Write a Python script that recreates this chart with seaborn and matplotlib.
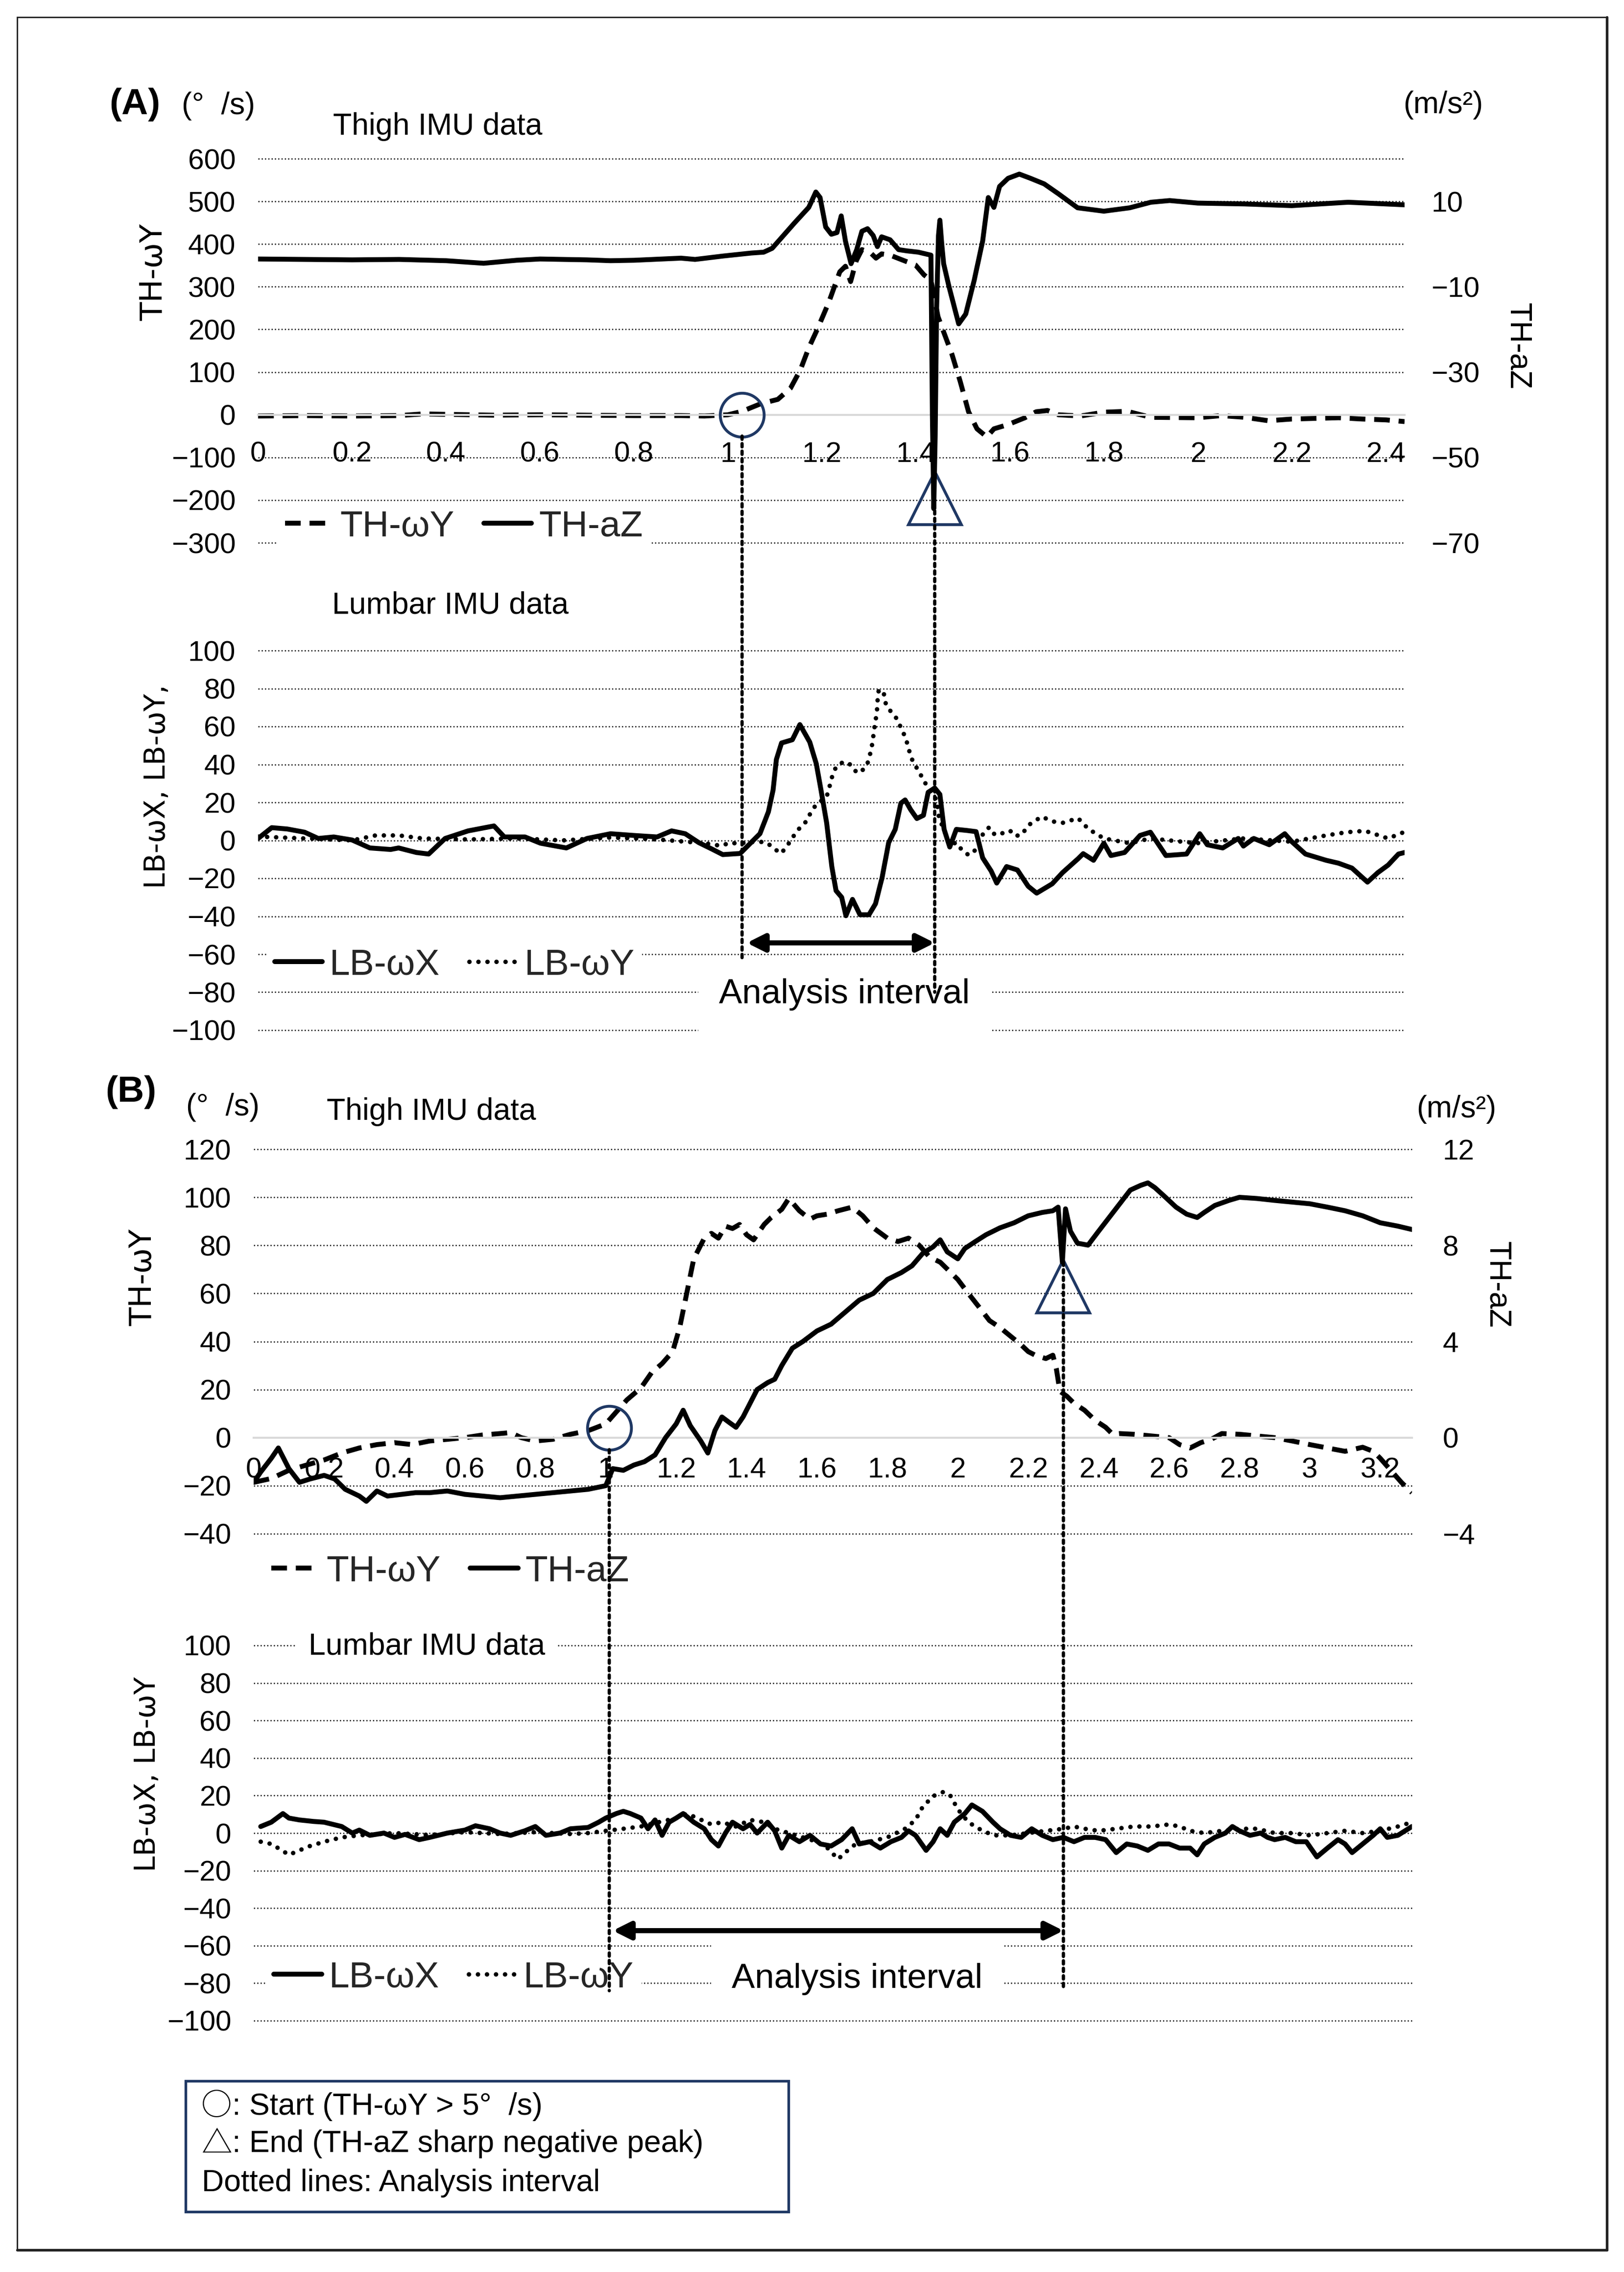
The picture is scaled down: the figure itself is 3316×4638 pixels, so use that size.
import matplotlib
matplotlib.use("Agg")
import matplotlib.pyplot as plt
import pandas as pd
import seaborn as sns
from matplotlib.lines import Line2D
from matplotlib.patches import ConnectionPatch, Rectangle

# ---------------- data: (time s, value) ----------------
# (A) thigh: TH-wY (deg/s)
a_th_wy = [(0, -3), (0.1, -2), (0.2, -3), (0.3, -2), (0.35, 2), (0.4, 1), (0.5, -1), (0.6, 0),
           (0.7, -1), (0.8, -2), (0.9, -2), (0.95, -3), (1.0, 0), (1.03, 8), (1.07, 26), (1.106, 36),
           (1.133, 62), (1.154, 105), (1.172, 157), (1.19, 200), (1.214, 262), (1.238, 335),
           (1.25, 348), (1.261, 312), (1.273, 361), (1.285, 387), (1.303, 380), (1.315, 367),
           (1.327, 377), (1.345, 374), (1.375, 361), (1.399, 351), (1.417, 328), (1.432, 315),
           (1.447, 230), (1.458, 197), (1.476, 144), (1.494, 79), (1.512, 7), (1.53, -33),
           (1.551, -52), (1.566, -33), (1.596, -23), (1.632, -7), (1.656, 7), (1.68, 10),
           (1.703, 0), (1.75, -3), (1.8, 6), (1.85, 8), (1.9, -6), (2.0, -7), (2.05, -2),
           (2.1, -6), (2.15, -14), (2.2, -10), (2.3, -7), (2.35, -10), (2.4, -12), (2.44, -16)]
# (A) thigh: TH-aZ (m/s2)
a_th_az = [(0, -3.5), (0.1, -3.6), (0.2, -3.7), (0.3, -3.6), (0.4, -3.9), (0.48, -4.5),
           (0.55, -3.8), (0.6, -3.5), (0.7, -3.7), (0.75, -3.9), (0.8, -3.8), (0.9, -3.3),
           (0.93, -3.6), (0.99, -2.8), (1.05, -2.1), (1.076, -1.9), (1.094, -1.0), (1.118, 2.0),
           (1.142, 5.0), (1.172, 8.6), (1.187, 12.2), (1.196, 10.9), (1.208, 4.0), (1.22, 2.3),
           (1.232, 2.7), (1.241, 6.6), (1.25, 0.7), (1.262, -4.6), (1.274, -1.3), (1.285, 3.0),
           (1.297, 3.6), (1.309, 2.0), (1.318, -0.6), (1.327, 1.7), (1.345, 1.0), (1.363, -1.3),
           (1.381, -1.6), (1.405, -1.9), (1.432, -2.6), (1.435, -40), (1.438, -62), (1.441, -45),
           (1.444, -15), (1.448, 2), (1.451, 5.6), (1.455, 0), (1.459, -4.6), (1.47, -9.8),
           (1.491, -18.7), (1.506, -16.4), (1.524, -8.5), (1.542, 0.7), (1.554, 10.9),
           (1.566, 8.6), (1.578, 13.5), (1.596, 15.4), (1.62, 16.4), (1.644, 15.4), (1.673, 14.1),
           (1.703, 11.8), (1.744, 8.5), (1.8, 7.7), (1.855, 8.5), (1.9, 9.8), (1.94, 10.2),
           (2.0, 9.6), (2.1, 9.4), (2.2, 9.0), (2.32, 9.8), (2.44, 9.2)]
# (A) lumbar: LB-wX, LB-wY (deg/s)
a_lb_wx = [(0, 1), (0.029, 6.7), (0.062, 6), (0.099, 4.3), (0.128, 1), (0.161, 1.8), (0.2, 0.2),
           (0.238, -4), (0.282, -4.8), (0.299, -4), (0.337, -6.4), (0.363, -7.2), (0.398, 1),
           (0.447, 5), (0.502, 7.6), (0.524, 1.8), (0.568, 1.8), (0.601, -1.5), (0.656, -4),
           (0.7, 1), (0.75, 3.5), (0.799, 2.6), (0.849, 1.8), (0.88, 5), (0.909, 3.5),
           (0.938, -1.2), (0.966, -4.6), (0.989, -7.5), (1.026, -6.9), (1.049, -1.2), (1.068, 3.5),
           (1.086, 15), (1.096, 26.5), (1.103, 42.6), (1.114, 51.3), (1.137, 53), (1.153, 61),
           (1.174, 51.8), (1.188, 40.3), (1.198, 26.5), (1.21, 9.2), (1.221, -13.8), (1.23, -26.5),
           (1.242, -30), (1.251, -39.7), (1.265, -31.1), (1.281, -39.2), (1.3, -39.2),
           (1.314, -33.4), (1.328, -19.6), (1.342, -1.2), (1.356, 5.8), (1.368, 19.6),
           (1.377, 21.3), (1.389, 16.1), (1.402, 11.5), (1.416, 13.2), (1.426, 25.3), (1.44, 27.6),
           (1.451, 24.2), (1.46, 5.8), (1.472, -3.5), (1.486, 5.8), (1.509, 5.2), (1.528, 4.6),
           (1.542, -9.2), (1.56, -16.1), (1.572, -22.5), (1.593, -13.8), (1.616, -15.6),
           (1.639, -24.2), (1.657, -27.8), (1.69, -22.9), (1.712, -17), (1.745, -9.7), (1.756, -7),
           (1.778, -10.5), (1.8, -1.5), (1.815, -8), (1.844, -6.4), (1.877, 2.6), (1.899, 4.3),
           (1.932, -8), (1.976, -7.2), (2.004, 3.5), (2.02, -2.3), (2.053, -4), (2.086, 1),
           (2.097, -3), (2.119, 1), (2.152, -2.3), (2.185, 3.5), (2.2, -0.7), (2.229, -7.2),
           (2.273, -10.5), (2.299, -12), (2.328, -14.6), (2.361, -22), (2.383, -17), (2.405, -13),
           (2.427, -7.2), (2.44, -6.4)]
a_lb_wy = [(0, 2), (0.1, 1), (0.2, 0), (0.25, 2.6), (0.3, 2.6), (0.35, 1), (0.45, 0.5), (0.55, 1),
           (0.65, 0), (0.75, 1.5), (0.85, 0.5), (0.95, -1.5), (0.986, -2.9), (1.004, -1.2),
           (1.021, -1.7), (1.063, -0.6), (1.083, -1.2), (1.096, -4), (1.113, -6.9), (1.126, -2.9),
           (1.138, 1.7), (1.15, 5.8), (1.164, 9.2), (1.175, 14), (1.187, 18.7), (1.21, 23),
           (1.216, 28.2), (1.222, 33.9), (1.23, 38.7), (1.244, 41.1), (1.257, 40.9), (1.268, 36.9),
           (1.281, 35.5), (1.296, 39.7), (1.302, 44.9), (1.307, 50.7), (1.313, 61.6), (1.317, 67.4),
           (1.318, 72.9), (1.321, 79.5), (1.332, 77), (1.336, 71.8), (1.347, 67.7), (1.36, 63.9),
           (1.369, 58.8), (1.378, 54.1), (1.384, 48.8), (1.39, 43.4), (1.4, 38.9), (1.41, 34.6),
           (1.421, 29.7), (1.444, 21.3), (1.449, 12.1), (1.472, -2.3), (1.486, -1.2), (1.5, -5.8),
           (1.513, -7.8), (1.526, -5.2), (1.544, 4), (1.556, 6.9), (1.568, 2.9), (1.581, 3.5),
           (1.6, 5.2), (1.611, 2.3), (1.625, 2.9), (1.638, 7.5), (1.646, 9.2), (1.668, 12.5),
           (1.69, 10), (1.712, 9.2), (1.745, 11.7), (1.767, 6), (1.8, 1), (1.855, -1.5),
           (1.899, 1), (1.998, -1.5), (2.097, 1), (2.2, -0.7), (2.273, 2.6), (2.317, 4.3),
           (2.356, 5), (2.405, 1), (2.438, 4.3)]

# (B) thigh: TH-wY (deg/s)
b_th_wy = [(0, -18.6), (0.05, -17), (0.1, -13.6), (0.15, -11.4), (0.2, -9.3), (0.25, -6.4),
           (0.3, -4.3), (0.35, -2.9), (0.4, -2.1), (0.45, -2.9), (0.5, -1.4), (0.55, -0.7), (0.6, 0),
           (0.65, 1.1), (0.7, 1.7), (0.73, 2.1), (0.76, 0), (0.8, -1.4), (0.85, -0.7), (0.9, 1.4),
           (0.95, 2.9), (1.0, 5.7), (1.03, 10.7), (1.06, 15.7), (1.1, 20.7), (1.13, 27), (1.16, 30.8),
           (1.19, 35.8), (1.21, 45.8), (1.23, 60), (1.25, 74.4), (1.28, 83), (1.3, 85), (1.32, 83),
           (1.34, 88), (1.36, 87), (1.38, 88.7), (1.4, 84.4), (1.42, 82.3), (1.45, 88.7),
           (1.47, 91.6), (1.5, 95), (1.52, 99.5), (1.55, 94.4), (1.58, 90.9), (1.6, 92.3),
           (1.63, 93), (1.66, 94.4), (1.7, 95.9), (1.73, 92.3), (1.76, 87.3), (1.8, 83),
           (1.83, 81.6), (1.86, 83), (1.89, 80.1), (1.92, 75.1), (1.95, 73), (1.98, 68.7),
           (2.0, 65.8), (2.03, 60), (2.06, 54.4), (2.09, 48.7), (2.12, 45.8), (2.15, 42.2),
           (2.18, 38.6), (2.2, 35.8), (2.22, 34.3), (2.25, 32.9), (2.27, 34.3), (2.28, 28.6),
           (2.29, 19.3), (2.31, 17.2), (2.33, 14.3), (2.36, 11.4), (2.39, 7.2), (2.42, 4.3),
           (2.44, 1.4), (2.46, 1.7), (2.5, 1.4), (2.55, 0.7), (2.6, 0), (2.63, -2.9), (2.66, -4.3),
           (2.69, -2.1), (2.72, -0.7), (2.75, 1.7), (2.8, 1.4), (2.85, 0.7), (2.9, 0), (2.95, -1.4),
           (3.0, -2.9), (3.05, -4.3), (3.1, -5.7), (3.15, -4), (3.18, -5.7), (3.2, -8.6),
           (3.23, -13.6), (3.26, -18.6), (3.29, -22.9)]
# (B) thigh: TH-aZ (m/s2)
b_th_az = [(0, -1.86), (0.02, -1.43), (0.05, -0.86), (0.07, -0.43), (0.1, -1.29), (0.13, -1.86),
           (0.16, -1.72), (0.2, -1.57), (0.23, -1.72), (0.26, -2.15), (0.3, -2.43), (0.32, -2.65),
           (0.35, -2.22), (0.38, -2.43), (0.42, -2.36), (0.46, -2.29), (0.5, -2.29), (0.55, -2.22),
           (0.6, -2.36), (0.65, -2.43), (0.7, -2.5), (0.75, -2.43), (0.8, -2.36), (0.85, -2.29),
           (0.9, -2.22), (0.95, -2.15), (1.0, -2.0), (1.02, -1.29), (1.05, -1.36), (1.08, -1.14),
           (1.11, -1.0), (1.14, -0.72), (1.17, 0), (1.2, 0.57), (1.22, 1.14), (1.24, 0.5),
           (1.27, -0.14), (1.29, -0.64), (1.31, 0.29), (1.33, 0.86), (1.35, 0.64), (1.37, 0.43),
           (1.39, 0.86), (1.41, 1.43), (1.43, 2.0), (1.46, 2.29), (1.48, 2.43), (1.5, 3.0),
           (1.53, 3.72), (1.56, 4.0), (1.6, 4.44), (1.64, 4.72), (1.68, 5.22), (1.72, 5.72),
           (1.76, 6.0), (1.8, 6.58), (1.84, 6.87), (1.87, 7.15), (1.9, 7.66), (1.93, 7.94),
           (1.95, 8.23), (1.97, 7.73), (2.0, 7.44), (2.02, 7.87), (2.05, 8.16), (2.08, 8.44),
           (2.12, 8.73), (2.16, 8.94), (2.2, 9.23), (2.24, 9.37), (2.27, 9.44), (2.285, 9.59),
           (2.297, 7.3), (2.306, 9.52), (2.32, 8.59), (2.34, 8.09), (2.37, 8.01), (2.4, 8.59),
           (2.43, 9.16), (2.46, 9.73), (2.49, 10.3), (2.52, 10.5), (2.54, 10.6), (2.56, 10.4),
           (2.59, 10.0), (2.62, 9.59), (2.65, 9.3), (2.68, 9.16), (2.7, 9.37), (2.73, 9.66),
           (2.77, 9.87), (2.8, 10.0), (2.85, 9.95), (2.9, 9.87), (2.95, 9.8), (3.0, 9.73),
           (3.05, 9.59), (3.1, 9.44), (3.15, 9.23), (3.2, 8.94), (3.25, 8.8), (3.29, 8.66)]
# (B) lumbar: LB-wX, LB-wY (deg/s)
b_lb_wx = [(0.02, 3.5), (0.05, 5.8), (0.083, 10.4), (0.1, 8), (0.13, 7), (0.17, 6.2), (0.2, 5.8),
           (0.25, 3.5), (0.28, 0), (0.3, 1.6), (0.33, -1.2), (0.37, 0), (0.4, -2.3), (0.43, -0.7),
           (0.47, -3.5), (0.5, -2.3), (0.55, 0), (0.6, 1.6), (0.63, 3.9), (0.67, 2.3), (0.7, 0),
           (0.73, -1.2), (0.77, 1.2), (0.8, 3.5), (0.83, -1.2), (0.87, 0), (0.9, 2.3), (0.95, 3),
           (0.98, 5.8), (1.0, 8), (1.03, 10.4), (1.05, 11.6), (1.07, 10.4), (1.1, 8), (1.12, 2.3),
           (1.14, 7), (1.16, -1.2), (1.18, 5.8), (1.2, 8), (1.22, 10.4), (1.25, 5.8), (1.28, 2.3),
           (1.3, -3.5), (1.32, -6.9), (1.34, 0), (1.36, 5.8), (1.39, 2.3), (1.41, 4.6), (1.43, 0),
           (1.46, 5.8), (1.48, 1.2), (1.5, -8), (1.52, -1.2), (1.55, -4.6), (1.58, -1.2),
           (1.61, -5.8), (1.64, -6.9), (1.67, -3.5), (1.7, 2.3), (1.72, -5.8), (1.75, -4.6),
           (1.78, -8), (1.81, -4.6), (1.84, -2.3), (1.86, 1.2), (1.88, -1.2), (1.91, -9.2),
           (1.93, -4.6), (1.95, 2.3), (1.97, -1.2), (1.99, 5.8), (2.02, 10.4), (2.04, 15),
           (2.07, 11.6), (2.1, 5.8), (2.12, 2.3), (2.15, -1.2), (2.18, -2.3), (2.21, 2.3),
           (2.24, -1.2), (2.27, -3.5), (2.3, -2.3), (2.33, -4.6), (2.36, -2.3), (2.39, -2.3),
           (2.42, -3.5), (2.45, -10.4), (2.48, -5.8), (2.51, -6.9), (2.54, -9.2), (2.57, -5.8),
           (2.6, -5.8), (2.63, -8), (2.66, -8), (2.68, -11.6), (2.7, -5.8), (2.73, -2.3),
           (2.76, 0), (2.78, 3.5), (2.8, 1.2), (2.83, -1.2), (2.86, 0), (2.88, -2.3), (2.9, -3.5),
           (2.93, -2.3), (2.96, -4.6), (2.99, -4.6), (3.02, -12.7), (3.05, -8), (3.08, -3.5),
           (3.1, -5.8), (3.12, -10.4), (3.15, -5.8), (3.18, -1.2), (3.2, 2.3), (3.22, -2.3),
           (3.25, -1.2), (3.29, 3.5)]
b_lb_wy = [(0.02, -4.6), (0.05, -5.8), (0.08, -9.2), (0.1, -11.6), (0.13, -9.2), (0.16, -6.9),
           (0.2, -4.6), (0.25, -2.3), (0.3, -1.2), (0.4, 0), (0.5, -1), (0.6, 0.5), (0.7, -0.5),
           (0.8, 0.5), (0.9, -0.5), (0.95, 0), (1.0, 1.2), (1.05, 2.3), (1.1, 3.5), (1.15, 5.8),
           (1.2, 8), (1.23, 10.4), (1.26, 8), (1.3, 4.6), (1.33, 5.8), (1.37, 3.5), (1.41, 7),
           (1.45, 5.8), (1.48, 2.3), (1.52, 0), (1.56, -2.3), (1.6, -4.6), (1.63, -8),
           (1.66, -13.9), (1.68, -10.4), (1.71, -5.8), (1.75, -4.6), (1.8, -2.3), (1.85, 2.3),
           (1.88, 7), (1.9, 13.9), (1.93, 19.7), (1.96, 22), (1.98, 19.7), (2.0, 12.7), (2.03, 5.8),
           (2.06, 2.3), (2.1, -1.2), (2.15, -1.2), (2.2, 0), (2.25, 1.2), (2.3, 2.3), (2.33, 3.5),
           (2.36, 2.3), (2.4, 1.2), (2.45, 2.3), (2.5, 3.5), (2.55, 3.5), (2.6, 4.6), (2.63, 3.5),
           (2.66, 1.2), (2.7, 0), (2.75, 1.2), (2.8, 2.3), (2.85, 2.3), (2.9, 0), (2.95, 0),
           (3.0, -1.2), (3.05, 0), (3.1, 1.2), (3.15, 0), (3.2, 1.2), (3.25, 3.5), (3.29, 5.8)]

# analysis interval (start circle, end triangle), seconds
a_start, a_end = 1.03, 1.44
b_start, b_end = 1.01, 2.30

a_xlabels = ["0", "0.2", "0.4", "0.6", "0.8", "1", "1.2", "1.4", "1.6", "1.8", "2", "2.2", "2.4"]
b_xlabels = ["0", "0.2", "0.4", "0.6", "0.8", "1", "1.2", "1.4", "1.6", "1.8", "2", "2.2", "2.4",
             "2.6", "2.8", "3", "3.2"]

# ---------------- figure ----------------
W, H = 3316, 4638
sns.set_theme(style="white")
plt.rcParams["font.family"] = ["Liberation Sans", "DejaVu Sans"]
plt.rcParams["axes.unicode_minus"] = True

fig = plt.figure(figsize=(W / 300, H / 300), dpi=300)
fig.patch.set_facecolor("white")


def px_box(x0, y0, x1, y1):
    return [x0 / W, 1 - y1 / H, (x1 - x0) / W, (y1 - y0) / H]


def ftext(x, y, s, **kw):
    kw.setdefault("ha", "center")
    kw.setdefault("va", "center")
    kw.setdefault("fontsize", 15)
    return fig.text(x / W, 1 - y / H, s, color="black", **kw)


NAVY = "#1f3864"
GRID = dict(color="#111111", lw=0.6, ls=(0, (1, 1.7)), zorder=0.5, clip_on=False)


def trace(ax, pairs, **kw):
    df = pd.DataFrame(pairs, columns=["t", "v"])
    sns.lineplot(data=df, x="t", y="v", ax=ax, estimator=None, sort=False,
                 legend=False, color="black", **kw)
    ax.set_xlabel("")
    ax.set_ylabel("")
    return ax.lines[-1]


def base_axes(rect, xmax, ylim, ystep, zero_axis):
    ax = fig.add_axes(rect)
    ax.set_xlim(0, xmax)
    ax.set_ylim(*ylim)
    ticks = list(range(ylim[0], ylim[1] + 1, ystep))
    ax.set_yticks(ticks)
    for y in ticks:
        if zero_axis and y == 0:
            continue
        ax.axhline(y, **GRID)
    for s in ax.spines.values():
        s.set_visible(False)
    ax.tick_params(axis="y", length=0, pad=11, labelsize=14, labelcolor="black")
    if zero_axis:
        sp = ax.spines["bottom"]
        sp.set_visible(True)
        sp.set_position(("data", 0))
        sp.set_color("#d9d9d9")
        sp.set_linewidth(1.0)
    else:
        ax.set_xticks([])
    return ax


SOLID = dict(lw=2.4, solid_joinstyle="round", solid_capstyle="round")
DASH = dict(lw=2.4, linestyle=(0, (3.2, 1.8)))
DOT = dict(lw=2.2, linestyle=(0, (0.01, 2.0)), dash_capstyle="round")
LEG = dict(loc="center left", ncol=2, frameon=True, fontsize=18, handlelength=1.3,
           handletextpad=0.2, columnspacing=0.8, borderpad=0.2, borderaxespad=0)


def white_legend(ax, handles, labels, anchor):
    leg = ax.legend(handles, labels, bbox_to_anchor=anchor, **LEG)
    fr = leg.get_frame()
    fr.set_facecolor("white")
    fr.set_alpha(1)
    fr.set_linewidth(0)
    return leg


def link(ax_top, ax_low, t, y_top, y_low):
    con = ConnectionPatch(xyA=(t, y_top), coordsA=ax_top.transData,
                          xyB=(t, y_low), coordsB=ax_low.transData,
                          color="black", lw=1.6, linestyle=(0, (1, 1.3)), zorder=10)
    fig.add_artist(con)


def interval_arrow(ax, t0, t1, y):
    ax.annotate("", xy=(t1, y), xytext=(t0 + 0.01, y),
                arrowprops=dict(arrowstyle="<|-|>", color="black", lw=2.5,
                                mutation_scale=18, shrinkA=0, shrinkB=0))


# ---------- panel A, thigh ----------
axA = base_axes(px_box(527, 324, 2868, 1108), 2.44, (-300, 600), 100, True)
axA.set_xticks([float(s) for s in a_xlabels])
axA.set_xticklabels(a_xlabels)
axA.tick_params(axis="x", length=0, pad=13, labelsize=14, labelcolor="black")
lA1 = trace(axA, a_th_wy, **DASH)
axA2 = axA.twinx()
lA2 = trace(axA2, a_th_az, **SOLID)
axA2.set_ylim(-70, 20)
axA2.set_yticks([-70, -50, -30, -10, 10])
axA2.tick_params(axis="y", length=0, pad=13, labelsize=14, labelcolor="black")
for s in axA2.spines.values():
    s.set_visible(False)
axA2.grid(False)
axA.set_xlim(0, 2.44)
axA.plot([a_start], [0], marker="o", ms=21.5, mfc="none", mec=NAVY, mew=1.4, zorder=6)
axA.plot([a_end], [-195], marker="^", ms=26, mfc="none", mec=NAVY, mew=1.4, zorder=6)
white_legend(axA2, [lA1, lA2], ["TH-ωY", "TH-aZ"], (0.017, 0.042))

# ---------- panel A, lumbar ----------
axAL = base_axes(px_box(527, 1328, 2868, 2103), 2.44, (-100, 100), 20, False)
lA3 = trace(axAL, a_lb_wx, **SOLID)
lA4 = trace(axAL, a_lb_wy, **DOT)
axAL.set_xlim(0, 2.44)
axAL.set_xticks([])
white_legend(axAL, [lA3, lA4], ["LB-ωX", "LB-ωY"], (0.008, 0.172))
interval_arrow(axAL, a_start, a_end, -54)
link(axA, axAL, a_start, -50, -64)
link(axA, axAL, a_end, -137, -80)

# ---------- panel B, thigh ----------
axB = base_axes(px_box(518, 2346, 2883, 3131), 3.29, (-40, 120), 20, True)
axB.set_xticks([float(s) for s in b_xlabels])
axB.set_xticklabels(b_xlabels)
axB.tick_params(axis="x", length=0, pad=9.5, labelsize=14, labelcolor="black")
lB1 = trace(axB, b_th_wy, **DASH)
axB2 = axB.twinx()
lB2 = trace(axB2, b_th_az, **SOLID)
axB2.set_ylim(-4, 12)
axB2.set_yticks([-4, 0, 4, 8, 12])
axB2.tick_params(axis="y", length=0, pad=15, labelsize=14, labelcolor="black")
for s in axB2.spines.values():
    s.set_visible(False)
axB2.grid(False)
axB.set_xlim(0, 3.29)
axB.plot([b_start], [4], marker="o", ms=21.5, mfc="none", mec=NAVY, mew=1.4, zorder=6)
axB.plot([b_end], [63], marker="^", ms=26, mfc="none", mec=NAVY, mew=1.4, zorder=6)
white_legend(axB2, [lB1, lB2], ["TH-ωY", "TH-aZ"], (0.009, -0.098))

# ---------- panel B, lumbar ----------
axBL = base_axes(px_box(518, 3359, 2883, 4125), 3.29, (-100, 100), 20, False)
lB3 = trace(axBL, b_lb_wx, **SOLID)
lB4 = trace(axBL, b_lb_wy, **DOT)
axBL.set_xlim(0, 3.29)
axBL.set_xticks([])
white_legend(axBL, [lB3, lB4], ["LB-ωX", "LB-ωY"], (0.011, 0.115))
interval_arrow(axBL, b_start, b_end, -52)
link(axB, axBL, b_start, -5, -84)
link(axB, axBL, b_end, 73, -84)

# ---------- labels ----------
WHITE = dict(facecolor="white", edgecolor="none", pad=6)
ftext(275, 214, "(A)", fontsize=18, fontweight="bold")
ftext(446, 216, "(°  /s)")
ftext(894, 258, "Thigh IMU data")
ftext(2947, 214, "(m/s²)")
ftext(314, 556, "TH-ωY", rotation=90, family=["DejaVu Sans"], fontsize=15)
ftext(3100, 706, "TH-aZ", rotation=270)
ftext(920, 1236, "Lumbar IMU data")
ftext(321, 1606, "LB-ωX, LB-ωY,", rotation=90, family=["DejaVu Sans"], fontsize=14)
ftext(1724, 2030, "Analysis interval", fontsize=17, bbox=dict(WHITE, pad=10))

ftext(267, 2230, "(B)", fontsize=18, fontweight="bold")
ftext(455, 2261, "(°  /s)")
ftext(881, 2270, "Thigh IMU data")
ftext(2974, 2264, "(m/s²)")
ftext(292, 2608, "TH-ωY", rotation=90, family=["DejaVu Sans"], fontsize=15)
ftext(3058, 2622, "TH-aZ", rotation=270)
ftext(872, 3361, "Lumbar IMU data", bbox=WHITE)
ftext(300, 3622, "LB-ωX, LB-ωY", rotation=90, family=["DejaVu Sans"], fontsize=14)
ftext(1750, 4040, "Analysis interval", fontsize=17, bbox=dict(WHITE, pad=10))

# note box
fig.add_artist(Rectangle((379 / W, 1 - 4515 / H), (1610 - 379) / W, (4515 - 4248) / H,
                         transform=fig.transFigure, fill=False, edgecolor=NAVY, lw=1.3))
for y, sym, s in [(4300, "○", ": Start (TH-ωY > 5°  /s)"),
                  (4377, "△", ": End (TH-aZ sharp negative peak)"),
                  (4457, "", "Dotted lines: Analysis interval")]:
    if sym:
        ftext(442, y, sym, fontsize=15, family=["Noto Sans CJK JP", "DejaVu Sans"])
        ftext(474, y, s, ha="left", fontsize=15)
    else:
        ftext(412, y, s, ha="left", fontsize=15)

# outer frame
fig.add_artist(Rectangle((35 / W, 1 - 4593 / H), (3281 - 35) / W, (4593 - 35) / H,
                         transform=fig.transFigure, fill=False, edgecolor="#222222", lw=0.7))
fig.add_artist(Line2D([3281 / W, 3281 / W], [1 - 35 / H, 1 - 4593 / H],
                      transform=fig.transFigure, color="#222222", lw=1.3))
fig.add_artist(Line2D([35 / W, 3281 / W], [1 - 4593 / H, 1 - 4593 / H],
                      transform=fig.transFigure, color="#222222", lw=1.3))

fig.savefig("out.png", dpi=300, facecolor="white")
